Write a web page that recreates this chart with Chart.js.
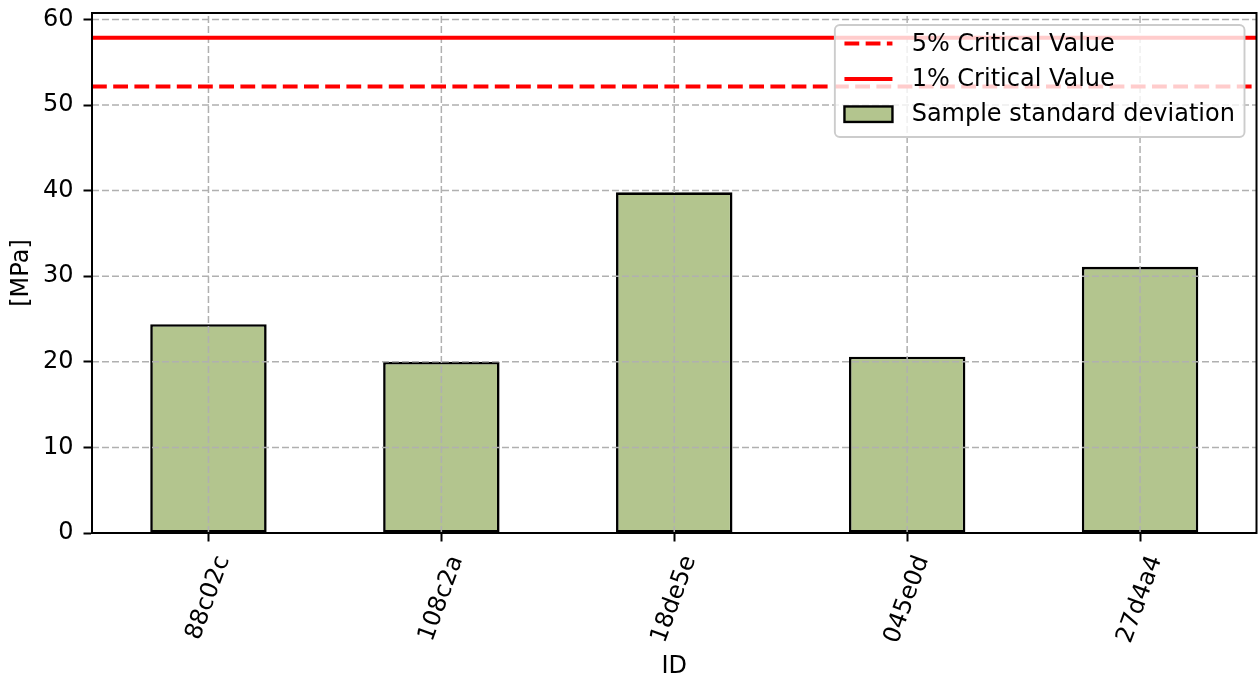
<!DOCTYPE html>
<html>
<head>
<meta charset="utf-8">
<script src="https://cdn.jsdelivr.net/npm/chart.js@4.4.0/dist/chart.umd.min.js"></script>
<style>
  html, body { margin: 0; padding: 0; background: #ffffff; }
  #wrap { width: 1260px; height: 679px; position: relative; }
</style>
</head>
<body>
<div id="wrap"><canvas id="c"></canvas></div>
<script>
// ---- data ----
const categories = ['88c02c', '108c2a', '18de5e', '045e0d', '27d4a4'];
const stdValues = [24.4, 20.0, 39.8, 20.6, 31.1];
const crit5Value = 52.15;
const crit1Value = 57.86;
const yTicks = [0, 10, 20, 30, 40, 50, 60];
const legendLabels = ['5% Critical Value', '1% Critical Value', 'Sample standard deviation'];
const yTitle = '[MPa]';
const xTitle = 'ID';

// ---- style ----
const FONT = 'DejaVu Sans';
const FS = 24;
const BAR_COLOR = '#b3c58e';
const RED = '#ff0000';
const DASH = [14.8, 6.4];
const GRID_COLOR = '#b0b0b0';

const xMin = -0.5, xMax = categories.length - 0.5;

const gridPlugin = {
  id: 'mplGrid',
  afterDatasetDraw(chart, args) {
    if (args.meta.type !== 'bar') return;
    const ctx = chart.ctx, a = chart.chartArea;
    const xs = chart.scales.x, ys = chart.scales.y;
    ctx.save();
    ctx.strokeStyle = GRID_COLOR;
    ctx.lineWidth = 1.5;
    ctx.setLineDash([7, 3]);
    categories.forEach((c, i) => {
      const x = xs.getPixelForValue(i);
      ctx.beginPath(); ctx.moveTo(x, a.bottom); ctx.lineTo(x, a.top); ctx.stroke();
    });
    yTicks.forEach(v => {
      const y = ys.getPixelForValue(v);
      ctx.beginPath(); ctx.moveTo(a.left, y); ctx.lineTo(a.right, y); ctx.stroke();
    });
    ctx.restore();
  }
};

const decorPlugin = {
  id: 'mplDecor',
  afterDraw(chart) {
    const ctx = chart.ctx, a = chart.chartArea;
    const xs = chart.scales.x;
    // frame
    ctx.save();
    ctx.strokeStyle = '#000';
    ctx.lineWidth = 2;
    ctx.setLineDash([]);
    ctx.strokeRect(a.left, a.top, a.right - a.left, a.bottom - a.top);
    ctx.restore();

    // rotated x tick labels (matplotlib-style centered bbox)
    ctx.save();
    ctx.font = FS + 'px "' + FONT + '"';
    ctx.fillStyle = '#000';
    const ang = 70 * Math.PI / 180;
    categories.forEach((lab, i) => {
      const px = xs.getPixelForValue(i);
      const w = ctx.measureText(lab).width;
      const h = FS * 1.164;
      const H = w * Math.sin(ang) + h * Math.cos(ang);
      const cy = a.bottom + 8.5 + 8.4 + H / 2 + 2;
      ctx.save();
      ctx.translate(px, cy);
      ctx.rotate(-ang);
      ctx.textAlign = 'center';
      ctx.textBaseline = 'middle';
      ctx.fillText(lab, 0, 0);
      ctx.restore();
    });
    ctx.restore();

    // legend box
    ctx.save();
    ctx.font = FS + 'px "' + FONT + '"';
    let tw = 0;
    legendLabels.forEach(l => { tw = Math.max(tw, ctx.measureText(l).width); });
    const right = a.right - 12;
    const top = a.top + 12;
    const bw = 9.6 + 48 + 19.2 + tw + 9.6;
    const bh = 112;
    const left = right - bw;
    ctx.beginPath();
    ctx.roundRect(left, top, bw, bh, 5);
    ctx.fillStyle = 'rgba(255,255,255,0.8)';
    ctx.fill();
    ctx.strokeStyle = '#cccccc';
    ctx.lineWidth = 1.9;
    ctx.stroke();
    const hx0 = left + 9.6, hx1 = hx0 + 48, tx = hx1 + 19.2;
    legendLabels.forEach((l, i) => {
      const cy = top + 18.6 + i * 35.3;
      if (i < 2) {
        ctx.save();
        ctx.strokeStyle = RED;
        ctx.lineWidth = 4;
        ctx.lineCap = 'butt';
        ctx.setLineDash(i === 0 ? DASH : []);
        ctx.beginPath(); ctx.moveTo(hx0, cy); ctx.lineTo(hx1, cy); ctx.stroke();
        ctx.restore();
      } else {
        ctx.save();
        ctx.fillStyle = BAR_COLOR;
        ctx.fillRect(hx0, cy - 7.75, 48, 15.5);
        ctx.strokeStyle = '#000';
        ctx.lineWidth = 2.4;
        ctx.strokeRect(hx0, cy - 7.75, 48, 15.5);
        ctx.restore();
      }
      ctx.fillStyle = '#000';
      ctx.textAlign = 'left';
      ctx.textBaseline = 'middle';
      ctx.fillText(l, tx, cy + 1);
    });
    ctx.restore();
  }
};

new Chart(document.getElementById('c'), {
  type: 'bar',
  data: {
    labels: categories,
    datasets: [
      {
        type: 'line',
        label: legendLabels[0],
        xAxisID: 'xl',
        data: [{ x: xMin, y: crit5Value }, { x: xMax, y: crit5Value }],
        borderColor: RED,
        borderWidth: 4,
        borderDash: DASH,
        pointRadius: 0,
        fill: false,
        order: 1
      },
      {
        type: 'line',
        label: legendLabels[1],
        xAxisID: 'xl',
        data: [{ x: xMin, y: crit1Value }, { x: xMax, y: crit1Value }],
        borderColor: RED,
        borderWidth: 4,
        pointRadius: 0,
        fill: false,
        order: 1
      },
      {
        type: 'bar',
        label: legendLabels[2],
        xAxisID: 'x',
        data: stdValues,
        backgroundColor: BAR_COLOR,
        borderColor: '#000',
        borderWidth: 2.6,
        borderSkipped: false,
        categoryPercentage: 1.0,
        barPercentage: 0.5,
        grouped: false,
        order: 2
      }
    ]
  },
  options: {
    responsive: true,
    maintainAspectRatio: false,
    animation: false,
    events: [],
    layout: { padding: { left: 0, right: 3.5, top: 13, bottom: 0 } },
    plugins: { legend: { display: false }, tooltip: { enabled: false } },
    scales: {
      x: {
        type: 'category',
        position: 'bottom',
        offset: true,
        grid: { display: true, offset: false, drawOnChartArea: false, drawTicks: true, tickLength: 8.5, tickWidth: 2, tickColor: '#000' },
        border: { display: true, color: '#000', width: 2 },
        ticks: { display: false },
        title: { display: true, text: xTitle, color: '#000', font: { family: FONT, size: FS }, padding: { top: 0, bottom: -2.5 } },
        afterFit(scale) { scale.height = 146; scale.paddingLeft = 0; scale.paddingRight = 0; }
      },
      xl: {
        type: 'linear',
        display: false,
        offset: false,
        grid: { offset: false },
        min: xMin,
        max: xMax
      },
      y: {
        type: 'linear',
        position: 'left',
        min: 0,
        max: 60.75,
        grid: { display: true, drawOnChartArea: false, drawTicks: true, tickLength: 8.5, tickWidth: 2, tickColor: '#000' },
        border: { display: true, color: '#000', width: 2 },
        ticks: { color: '#000', font: { family: FONT, size: FS }, padding: 10 },
        afterBuildTicks(scale) { scale.ticks = yTicks.map(v => ({ value: v })); },
        title: { display: true, text: yTitle, color: '#000', font: { family: FONT, size: FS }, padding: { top: 7.6, bottom: 0 } },
        afterFit(scale) { scale.width = 92; scale.paddingTop = 0; scale.paddingBottom = 0; }
      }
    }
  },
  plugins: [gridPlugin, decorPlugin]
});
</script>
</body>
</html>
